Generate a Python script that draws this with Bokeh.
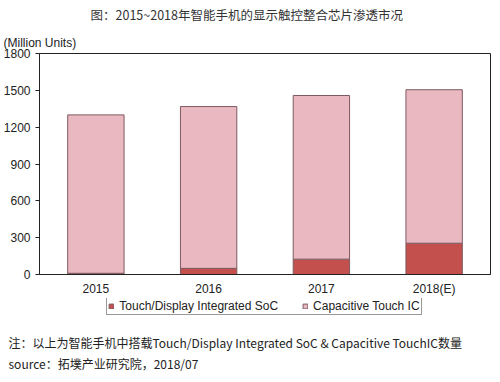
from bokeh.plotting import figure
from bokeh.layouts import column
from bokeh.models import (Range1d, FactorRange, FixedTicker, Legend, LegendItem,
                          Title, ColumnDataSource)
from bokeh.embed import file_html
from bokeh.resources import INLINE

# ---- data ----
years = ["2015", "2016", "2017", "2018(E)"]
soc = [10, 50, 125, 255]
touch_ic = [1290, 1318, 1333, 1250]
y_ticks = [0, 300, 600, 900, 1200, 1500, 1800]
series_names = ["Touch/Display Integrated SoC", "Capacitive Touch IC"]
title_text = "图：2015~2018年智能手机的显示触控整合芯片渗透市况"
unit_text = "(Million Units)"
note_text = "注：以上为智能手机中搭载Touch/Display Integrated SoC & Capacitive TouchIC数量"
source_text = "source：拓墣产业研究院，2018/07"

RED = "#c4504e"
PINK = "#e9b8c0"
EDGE = "#7d5a60"
TXT = "#222222"

src = ColumnDataSource(dict(year=years, soc=soc, touch=touch_ic))

# ---------------- main chart ----------------
p = figure(x_range=FactorRange(*years), y_range=Range1d(0, 1800),
           frame_width=451, frame_height=221, output_backend="svg",
           toolbar_location=None,
           min_border_left=36, min_border_right=1, min_border_top=0,
           min_border_bottom=0, title=None)
p.background_fill_color = "white"
p.border_fill_color = "white"
p.outline_line_color = "#222222"
p.outline_line_width = 1
p.xgrid.visible = False
p.ygrid.visible = False

rs = p.vbar_stack(["soc", "touch"], x="year", width=0.5, source=src,
                  fill_color=[RED, PINK], line_color=EDGE, line_width=1)

p.yaxis.ticker = FixedTicker(ticks=y_ticks)
p.yaxis.minor_tick_line_color = None
p.yaxis.major_tick_out = 4
p.yaxis.major_tick_in = 0
p.yaxis.major_label_standoff = 5
p.yaxis.axis_line_color = "#222222"
p.yaxis.major_tick_line_color = "#222222"
p.yaxis.major_label_text_font = "Liberation Sans"
p.yaxis.major_label_text_font_size = "12px"
p.yaxis.major_label_text_color = TXT

p.xaxis.major_tick_line_color = None
p.xaxis.minor_tick_line_color = None
p.xaxis.major_tick_out = 0
p.xaxis.major_label_standoff = 7
p.xaxis.axis_line_color = "#222222"
p.xaxis.major_label_text_font = "Liberation Sans"
p.xaxis.major_label_text_font_size = "12px"
p.xaxis.major_label_text_color = TXT

p.add_layout(Title(text=unit_text, align="left", offset=-36, standoff=8,
                   text_font="Liberation Sans", text_font_size="12px",
                   text_font_style="normal", text_color=TXT), "above")
p.add_layout(Title(text=title_text, align="left", offset=51, standoff=8,
                   vertical_align="top",
                   text_font="Noto Sans CJK SC", text_font_size="12.5px",
                   text_font_style="normal", text_color="#333333"), "above")

# ---------------- legend + footnotes strip ----------------
p2 = figure(x_range=FactorRange(*years), y_range=Range1d(2000, 2032),
            frame_width=451, frame_height=32, output_backend="svg",
            toolbar_location=None, x_axis_type=None, y_axis_type=None,
            min_border_left=36, min_border_right=1, min_border_top=0,
            min_border_bottom=0, title=None)
p2.outline_line_color = None
p2.background_fill_color = "white"
p2.border_fill_color = "white"
p2.grid.visible = False

# same stacked series, hidden, only to feed the legend swatches
ls = p2.vbar_stack(["soc", "touch"], x="year", width=0.5, source=src,
                   fill_color=[RED, PINK], line_color=EDGE, line_width=1)
for r in ls:
    r.visible = False

legend = Legend(items=[LegendItem(label=series_names[0], renderers=[ls[0]]),
                       LegendItem(label=series_names[1], renderers=[ls[1]])],
                orientation="horizontal", location=(94, 15),
                border_line_color="#333333", border_line_width=1,
                background_fill_alpha=0, click_policy="none",
                padding=1, margin=0, spacing=24, label_standoff=5,
                glyph_width=6, glyph_height=6, label_height=12,
                label_text_font="Liberation Sans", label_text_font_size="12px",
                label_text_color=TXT)
p2.add_layout(legend)

p2.add_layout(Title(text=note_text, align="left", offset=-31, standoff=2,
                    text_font="Noto Sans CJK SC", text_font_size="12px",
                    text_font_style="normal", text_color=TXT), "below")
p2.add_layout(Title(text=source_text, align="left", offset=-31, standoff=2,
                    text_font="Noto Sans CJK SC", text_font_size="12px",
                    text_font_style="normal", text_color=TXT), "below")

layout = column(p, p2, spacing=0)
open("out.html", "w").write(file_html(layout, INLINE))
